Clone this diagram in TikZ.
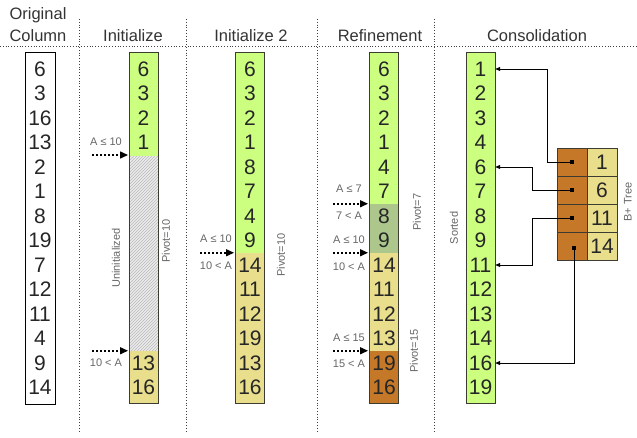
\documentclass[tikz,border=0pt]{standalone}
\usepackage{fontspec}
\setmainfont{Liberation Sans}
\usetikzlibrary{arrows.meta,patterns}
\definecolor{cgreen}{RGB}{204,255,128}
\definecolor{cyellow}{RGB}{232,222,140}
\definecolor{cbrown}{RGB}{196,120,40}
\definecolor{cgg}{RGB}{172,198,140}
\definecolor{chbg}{RGB}{236,236,236}
\definecolor{chl}{RGB}{185,185,185}
\definecolor{cborder}{RGB}{60,60,50}
\tikzset{
  num/.style={font=\fontsize{21}{21}\selectfont, text=black!85, inner sep=0pt, minimum width=29pt, minimum height=24.5pt},
  hdr/.style={font=\fontsize{16.5}{18}\selectfont, text=black!80, inner sep=0pt},
  lbl/.style={font=\fontsize{11}{12}\selectfont, text=black!60, inner sep=0pt},
  rlbl/.style={lbl, rotate=90},
  colbox/.style={draw=cborder, line width=0.9pt, inner sep=0pt, minimum width=29pt, minimum height=351pt},
  sepline/.style={dotted, line width=0.8pt, black!75},
  darr/.style={dash pattern=on 1.5pt off 2.5pt, line width=1.5pt, -{Triangle[length=8pt,width=7pt]}},
  conn/.style={line width=0.8pt, black, -{Triangle[length=5pt,width=4pt]}},
  tcell/.style={draw=cborder, line width=0.9pt, inner sep=0pt, minimum width=30pt, minimum height=28pt},
  tdot/.style={fill=black, inner sep=0pt, minimum size=4pt}
}
\begin{document}
\begin{tikzpicture}[x=1pt,y=-1pt]
\useasboundingbox (0,0) rectangle (637,437);

% headers and separators
\node[hdr] (h0a) at (38,15) {Original};
\node[hdr] (h0b) at (38,36) {Column};
\node[hdr] (h1) at (133,36) {Initialize};
\node[hdr] (h2) at (251,36) {Initialize 2};
\node[hdr] (h3) at (380,36) {Refinement};
\node[hdr] (h4) at (537,36) {Consolidation};
\draw[sepline] (0,46) -- (637,46);
\foreach \x in {79,186,317,434} \draw[sepline] (\x,19) -- (\x,432);

% Original column
\node[draw=black, line width=1pt, inner sep=0pt, minimum width=30pt, minimum height=352pt] (orig) at (40,228) {};
\foreach \v [count=\i from 0] in {6,3,16,13,2,1,8,19,7,12,11,4,9,14}
  \node[num] (o\i) at (40,{69+24.5*\i}) {\v};

% Initialize
\fill[cgreen] (129,52) rectangle (158,156);
\fill[chbg] (129,156) rectangle (158,350.75);
\fill[pattern=north east lines, pattern color=chl] (129,156) rectangle (158,350.75);
\fill[cyellow] (129,350.75) rectangle (158,403);
\node[colbox] (init) at (143.5,227.5) {};
\foreach \v [count=\i from 0] in {6,3,2,1}
  \node[num] (i\i) at (143.5,{69+24.5*\i}) {\v};
\node[num] (i12) at (143.5,{69+24.5*12}) {13};
\node[num] (i13) at (143.5,{69+24.5*13}) {16};
\coordinate (ia1s) at (92,155);
\coordinate (ia1e) at (128,155);
\draw[darr] (ia1s) -- (ia1e);
\node[lbl] (ila1) at (106,142) {A ≤ 10};
\coordinate (ia2s) at (92,350.75);
\coordinate (ia2e) at (128,350.75);
\draw[darr] (ia2s) -- (ia2e);
\node[lbl] (ila2) at (106,363) {10 < A};
\node[rlbl] (iun) at (116,258) {Uninitialized};
\node[rlbl] (ipv) at (166,241) {Pivot=10};

% Initialize 2
\fill[cgreen] (235.5,52) rectangle (264.5,252.75);
\fill[cyellow] (235.5,252.75) rectangle (264.5,403);
\node[colbox] (init2) at (250,227.5) {};
\foreach \v [count=\i from 0] in {6,3,2,1,8,7,4,9,14,11,12,19,13,16}
  \node[num] (j\i) at (250,{69+24.5*\i}) {\v};
\coordinate (ja1s) at (200,252.75);
\coordinate (ja1e) at (234,252.75);
\draw[darr] (ja1s) -- (ja1e);
\node[lbl] (jla1) at (216,239) {A ≤ 10};
\node[lbl] (jla2) at (216,266) {10 < A};
\node[rlbl] (jpv) at (281,255) {Pivot=10};

% Refinement
\fill[cgreen] (369.5,52) rectangle (398.5,203.75);
\fill[cgg] (369.5,203.75) rectangle (398.5,252.75);
\fill[cyellow] (369.5,252.75) rectangle (398.5,350.75);
\fill[cbrown] (369.5,350.75) rectangle (398.5,403);
\node[colbox] (ref) at (384,227.5) {};
\foreach \v [count=\i from 0] in {6,3,2,1,4,7,8,9,14,11,12,13,19,16}
  \node[num] (r\i) at (384,{69+24.5*\i}) {\v};
\coordinate (ra1s) at (333,203.75);
\coordinate (ra1e) at (368,203.75);
\draw[darr] (ra1s) -- (ra1e);
\node[lbl] (rla1) at (349,189) {A ≤ 7};
\node[lbl] (rlb1) at (349,216) {7 < A};
\coordinate (ra2s) at (333,252.75);
\coordinate (ra2e) at (368,252.75);
\draw[darr] (ra2s) -- (ra2e);
\node[lbl] (rla2) at (349,240) {A ≤ 10};
\node[lbl] (rlb2) at (349,267) {10 < A};
\coordinate (ra3s) at (333,350.75);
\coordinate (ra3e) at (368,350.75);
\draw[darr] (ra3s) -- (ra3e);
\node[lbl] (rla3) at (349,338) {A ≤ 15};
\node[lbl] (rlb3) at (349,364) {15 < A};
\node[rlbl] (rpv1) at (417,212) {Pivot=7};
\node[rlbl] (rpv2) at (414,351) {Pivot=15};

% Consolidation
\fill[cgreen] (466,52) rectangle (495,403);
\node[colbox] (cons) at (480.5,227.5) {};
\foreach \v [count=\i from 0] in {1,2,3,4,6,7,8,9,11,12,13,14,16,19}
  \node[num] (c\i) at (480.5,{69+24.5*\i}) {\v};
\node[rlbl] (csort) at (454,228) {Sorted};

% B+ tree
\foreach \v [count=\i] in {1,6,11,14} {
  \node[tcell, fill=cbrown] (ta\i) at (572,{134+28*\i}) {};
  \node[tcell, fill=cyellow, font=\fontsize{21}{21}\selectfont, text=black!85] (tb\i) at (602,{134+28*\i}) {\v};
}
\node[tdot] (d1) at (572,162) {};
\node[tdot] (d2) at (572,190) {};
\node[tdot] (d3) at (572,218) {};
\node[tdot] (d4) at (574,248) {};
\node[rlbl] (btree) at (628,202) {B+ Tree};

\draw[conn] (d1.center) -- ++(-25,0) |- (c0.east);
\draw[conn] (d2.center) -- ++(-40,0) |- (c4.east);
\draw[conn] (d3.center) -- ++(-40,0) |- (c8.east);
\draw[conn] (d4.center) |- (c12.east);
\end{tikzpicture}
\end{document}
